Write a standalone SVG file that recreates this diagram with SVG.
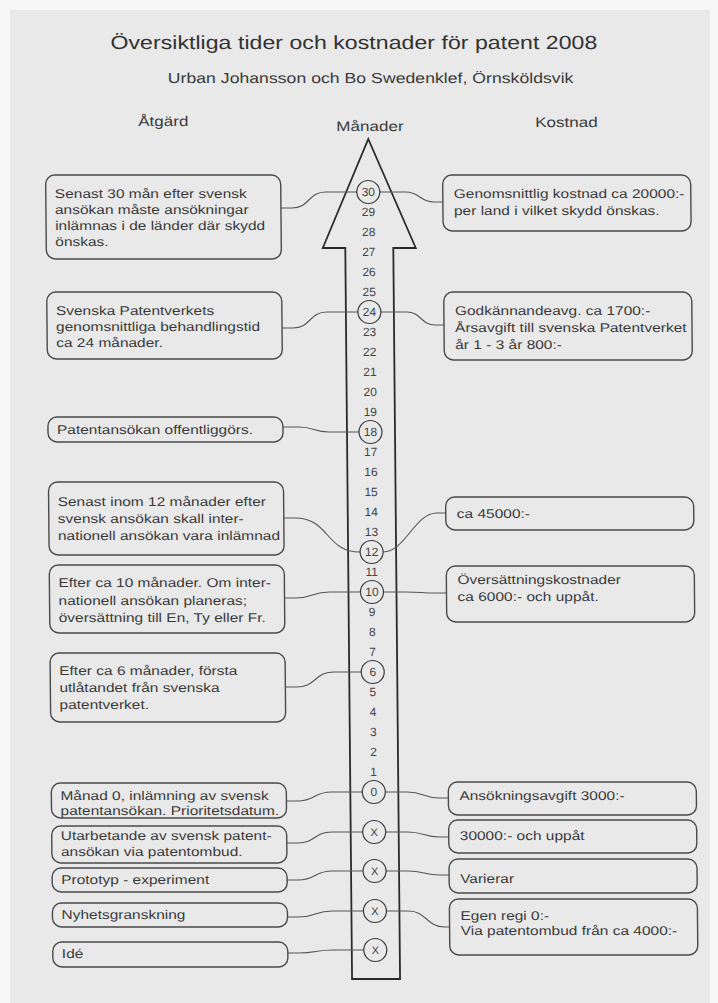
<svg xmlns="http://www.w3.org/2000/svg" width="718" height="1003" viewBox="0 0 718 1003">
<style>
.bg{fill:#e9e9e9}
.t{font-family:"Liberation Sans",Arial,Helvetica,sans-serif;font-size:12.7px;fill:#3a3a3a}
.h{font-family:"Liberation Sans",Arial,Helvetica,sans-serif;font-size:14px;fill:#3a3a3a}
.ttl{font-family:"Liberation Sans",Arial,Helvetica,sans-serif;font-size:19px;fill:#333}
.sub{font-family:"Liberation Sans",Arial,Helvetica,sans-serif;font-size:14.5px;fill:#3a3a3a}
.n{font-family:"Liberation Sans",Arial,Helvetica,sans-serif;font-size:12px;fill:#444;text-anchor:middle}
.x{font-family:"Liberation Sans",Arial,Helvetica,sans-serif;font-size:11px;fill:#444;text-anchor:middle}
.box{fill:none;stroke:#4a4a4a;stroke-width:1.4}
.c{fill:none;stroke:#3a3a3a;stroke-width:1.2}
.arrow{fill:none;stroke:#2a2a2a;stroke-width:1.8;stroke-linejoin:miter}
.con path{fill:none;stroke:#555;stroke-width:1.1}
</style>
<rect x="0" y="0" width="718" height="1003" fill="#f7f7f7"/>
<rect class="bg" x="10" y="10" width="700" height="993"/>
<g transform="skewX(0.53)">
<g id="title">
<text class="ttl" transform="translate(110,49) scale(1.22,1)">Översiktliga tider och kostnader för patent 2008</text>
<text class="sub" transform="translate(167,83) scale(1.22,1)">Urban Johansson och Bo Swedenklef, Örnsköldsvik</text>
</g>
<g id="headers">
<text class="h" transform="translate(137,126) scale(1.22,1)">Åtgärd</text>
<text class="h" transform="translate(335,131) scale(1.22,1)">Månader</text>
<text class="h" transform="translate(534,127) scale(1.22,1)">Kostnad</text>
</g>
<g id="arrow">
<polygon class="arrow" points="367,139 413.5,248 391,248 391,979 343,979 343,248 320.5,248"/>
</g>
<g id="connectors" class="con">
<path d="M279,208 H290 C308,208 306,192 324,192 H355"/>
<path d="M279,328 H290 C308,328 306,312 324,312 H355"/>
<path d="M279,427 H295 C310,427 310,432 325,432 H355"/>
<path d="M279,518 H290 C325,518 320,552 355,552"/>
<path d="M279,598 H290 C308,598 306,592 324,592 H355"/>
<path d="M279,687 H290 C310,687 308,672 328,672 H355"/>
<path d="M279,801 H290 C308,801 306,792 324,792 H355"/>
<path d="M279,843 H290 C308,843 306,832 324,832 H355"/>
<path d="M279,880 H290 C308,880 306,871 324,871 H355"/>
<path d="M279,917 H290 C308,917 306,911 324,911 H355"/>
<path d="M279,953 H290 C308,953 306,950 324,950 H355"/>
<path d="M378,192 H404 C418,192 418,202 432,202 H441"/>
<path d="M378,312 H404 C418,312 418,325 432,325 H441"/>
<path d="M378,552 C400,552 410,513 432,513 H441"/>
<path d="M378,592 H400 C416,592 416,593 432,593 H441"/>
<path d="M378,792 H400 C416,792 416,798 432,798 H441"/>
<path d="M378,832 H400 C416,832 416,837 432,837 H441"/>
<path d="M378,871 H400 C416,871 416,875 432,875 H441"/>
<path d="M378,911 H400 C418,911 418,927 436,927 H441"/>
</g>
<g id="scale">
<text class="n" x="366.5" y="216.2">29</text>
<text class="n" x="366.5" y="236.2">28</text>
<text class="n" x="366.5" y="256.2">27</text>
<text class="n" x="366.5" y="276.2">26</text>
<text class="n" x="366.5" y="296.2">25</text>
<text class="n" x="366.5" y="336.2">23</text>
<text class="n" x="366.5" y="356.2">22</text>
<text class="n" x="366.5" y="376.2">21</text>
<text class="n" x="366.5" y="396.2">20</text>
<text class="n" x="366.5" y="416.2">19</text>
<text class="n" x="366.5" y="456.2">17</text>
<text class="n" x="366.5" y="476.2">16</text>
<text class="n" x="366.5" y="496.2">15</text>
<text class="n" x="366.5" y="516.2">14</text>
<text class="n" x="366.5" y="536.2">13</text>
<text class="n" x="366.5" y="576.2">11</text>
<text class="n" x="366.5" y="616.2">9</text>
<text class="n" x="366.5" y="636.2">8</text>
<text class="n" x="366.5" y="656.2">7</text>
<text class="n" x="366.5" y="696.2">5</text>
<text class="n" x="366.5" y="716.2">4</text>
<text class="n" x="366.5" y="736.2">3</text>
<text class="n" x="366.5" y="756.2">2</text>
<text class="n" x="366.5" y="776.2">1</text>
</g>
<g id="m30"><circle class="c" cx="366.5" cy="192" r="11.5"/><text class="n" x="366.5" y="196.2">30</text></g>
<g id="m24"><circle class="c" cx="366.5" cy="312" r="11.5"/><text class="n" x="366.5" y="316.2">24</text></g>
<g id="m18"><circle class="c" cx="366.5" cy="432" r="11.5"/><text class="n" x="366.5" y="436.2">18</text></g>
<g id="m12"><circle class="c" cx="366.5" cy="552" r="11.5"/><text class="n" x="366.5" y="556.2">12</text></g>
<g id="m10"><circle class="c" cx="366.5" cy="592" r="11.5"/><text class="n" x="366.5" y="596.2">10</text></g>
<g id="m6"><circle class="c" cx="366.5" cy="672" r="11.5"/><text class="n" x="366.5" y="676.2">6</text></g>
<g id="m0"><circle class="c" cx="366.5" cy="792" r="11.5"/><text class="n" x="366.5" y="796.2">0</text></g>
<g id="x1"><circle class="c" cx="366.5" cy="832" r="11.5"/><text class="x" x="366.5" y="836">X</text></g>
<g id="x2"><circle class="c" cx="366.5" cy="871" r="11.5"/><text class="x" x="366.5" y="875">X</text></g>
<g id="x3"><circle class="c" cx="366.5" cy="911" r="11.5"/><text class="x" x="366.5" y="915">X</text></g>
<g id="x4"><circle class="c" cx="366.5" cy="950" r="11.5"/><text class="x" x="366.5" y="954">X</text></g>
<g id="a30"><rect class="box" x="44" y="175" width="235" height="84" rx="9"/>
<text class="t" transform="translate(53,198) scale(1.22,1)"><tspan x="0" y="0">Senast 30 mån efter svensk</tspan><tspan x="0" y="16">ansökan måste ansökningar</tspan><tspan x="0" y="32">inlämnas i de länder där skydd</tspan><tspan x="0" y="48">önskas.</tspan></text></g>
<g id="a24"><rect class="box" x="44" y="292" width="235" height="67" rx="9"/>
<text class="t" transform="translate(53,315) scale(1.22,1)"><tspan x="0" y="0">Svenska Patentverkets</tspan><tspan x="0" y="16">genomsnittliga behandlingstid</tspan><tspan x="0" y="32">ca 24 månader.</tspan></text></g>
<g id="a18"><rect class="box" x="44" y="417" width="235" height="25" rx="9"/>
<text class="t" transform="translate(53,434) scale(1.22,1)">Patentansökan offentliggörs.</text></g>
<g id="a12"><rect class="box" x="44" y="482" width="235" height="73" rx="9"/>
<text class="t" transform="translate(53,506) scale(1.22,1)"><tspan x="0" y="0">Senast inom 12 månader efter</tspan><tspan x="0" y="17">svensk ansökan skall inter-</tspan><tspan x="0" y="34">nationell ansökan vara inlämnad</tspan></text></g>
<g id="a10"><rect class="box" x="44" y="565" width="235" height="68" rx="9"/>
<text class="t" transform="translate(53,587) scale(1.22,1)"><tspan x="0" y="0">Efter ca 10 månader. Om inter-</tspan><tspan x="0" y="18">nationell ansökan planeras;</tspan><tspan x="0" y="35">översättning till En, Ty eller Fr.</tspan></text></g>
<g id="a6"><rect class="box" x="44" y="653" width="235" height="69" rx="9"/>
<text class="t" transform="translate(53,675) scale(1.22,1)"><tspan x="0" y="0">Efter ca 6 månader, första</tspan><tspan x="0" y="17">utlåtandet från svenska</tspan><tspan x="0" y="34">patentverket.</tspan></text></g>
<g id="a0"><rect class="box" x="44" y="783" width="235" height="35" rx="9"/>
<text class="t" transform="translate(53,800) scale(1.22,1)"><tspan x="0" y="0">Månad 0, inlämning av svensk</tspan><tspan x="0" y="15">patentansökan. Prioritetsdatum.</tspan></text></g>
<g id="ax1"><rect class="box" x="44" y="826" width="235" height="37" rx="9"/>
<text class="t" transform="translate(53,840) scale(1.22,1)"><tspan x="0" y="0">Utarbetande av svensk patent-</tspan><tspan x="0" y="16">ansökan via patentombud.</tspan></text></g>
<g id="ax2"><rect class="box" x="44" y="868" width="235" height="24" rx="9"/>
<text class="t" transform="translate(53,884) scale(1.22,1)">Prototyp - experiment</text></g>
<g id="ax3"><rect class="box" x="44" y="903" width="235" height="24" rx="9"/>
<text class="t" transform="translate(53,919) scale(1.22,1)">Nyhetsgranskning</text></g>
<g id="ax4"><rect class="box" x="44" y="942" width="235" height="25" rx="9"/>
<text class="t" transform="translate(53,958) scale(1.22,1)">Idé</text></g>
<g id="k30"><rect class="box" x="441" y="175" width="248" height="56" rx="9"/>
<text class="t" transform="translate(452,198) scale(1.22,1)"><tspan x="0" y="0">Genomsnittlig kostnad ca 20000:-</tspan><tspan x="0" y="17">per land i vilket skydd önskas.</tspan></text></g>
<g id="k24"><rect class="box" x="441" y="292" width="248" height="68" rx="9"/>
<text class="t" transform="translate(452,315) scale(1.22,1)"><tspan x="0" y="0">Godkännandeavg. ca 1700:-</tspan><tspan x="0" y="17">Årsavgift till svenska Patentverket</tspan><tspan x="0" y="34">år 1 - 3 år 800:-</tspan></text></g>
<g id="k12"><rect class="box" x="441" y="497" width="248" height="33" rx="9"/>
<text class="t" transform="translate(452,518) scale(1.22,1)">ca 45000:-</text></g>
<g id="k10"><rect class="box" x="441" y="566" width="248" height="56" rx="9"/>
<text class="t" transform="translate(452,584) scale(1.22,1)"><tspan x="0" y="0">Översättningskostnader</tspan><tspan x="0" y="17">ca 6000:- och uppåt.</tspan></text></g>
<g id="k0"><rect class="box" x="441" y="782" width="248" height="33" rx="9"/>
<text class="t" transform="translate(452,800) scale(1.22,1)">Ansökningsavgift 3000:-</text></g>
<g id="kx1"><rect class="box" x="441" y="820" width="248" height="33" rx="9"/>
<text class="t" transform="translate(452,840) scale(1.22,1)">30000:- och uppåt</text></g>
<g id="kx2"><rect class="box" x="441" y="859" width="248" height="34" rx="9"/>
<text class="t" transform="translate(452,883) scale(1.22,1)">Varierar</text></g>
<g id="kx3"><rect class="box" x="441" y="899" width="248" height="56" rx="9"/>
<text class="t" transform="translate(452,920) scale(1.22,1)"><tspan x="0" y="0">Egen regi 0:-</tspan><tspan x="0" y="15">Via patentombud från ca 4000:-</tspan></text></g>
</g>
</svg>
